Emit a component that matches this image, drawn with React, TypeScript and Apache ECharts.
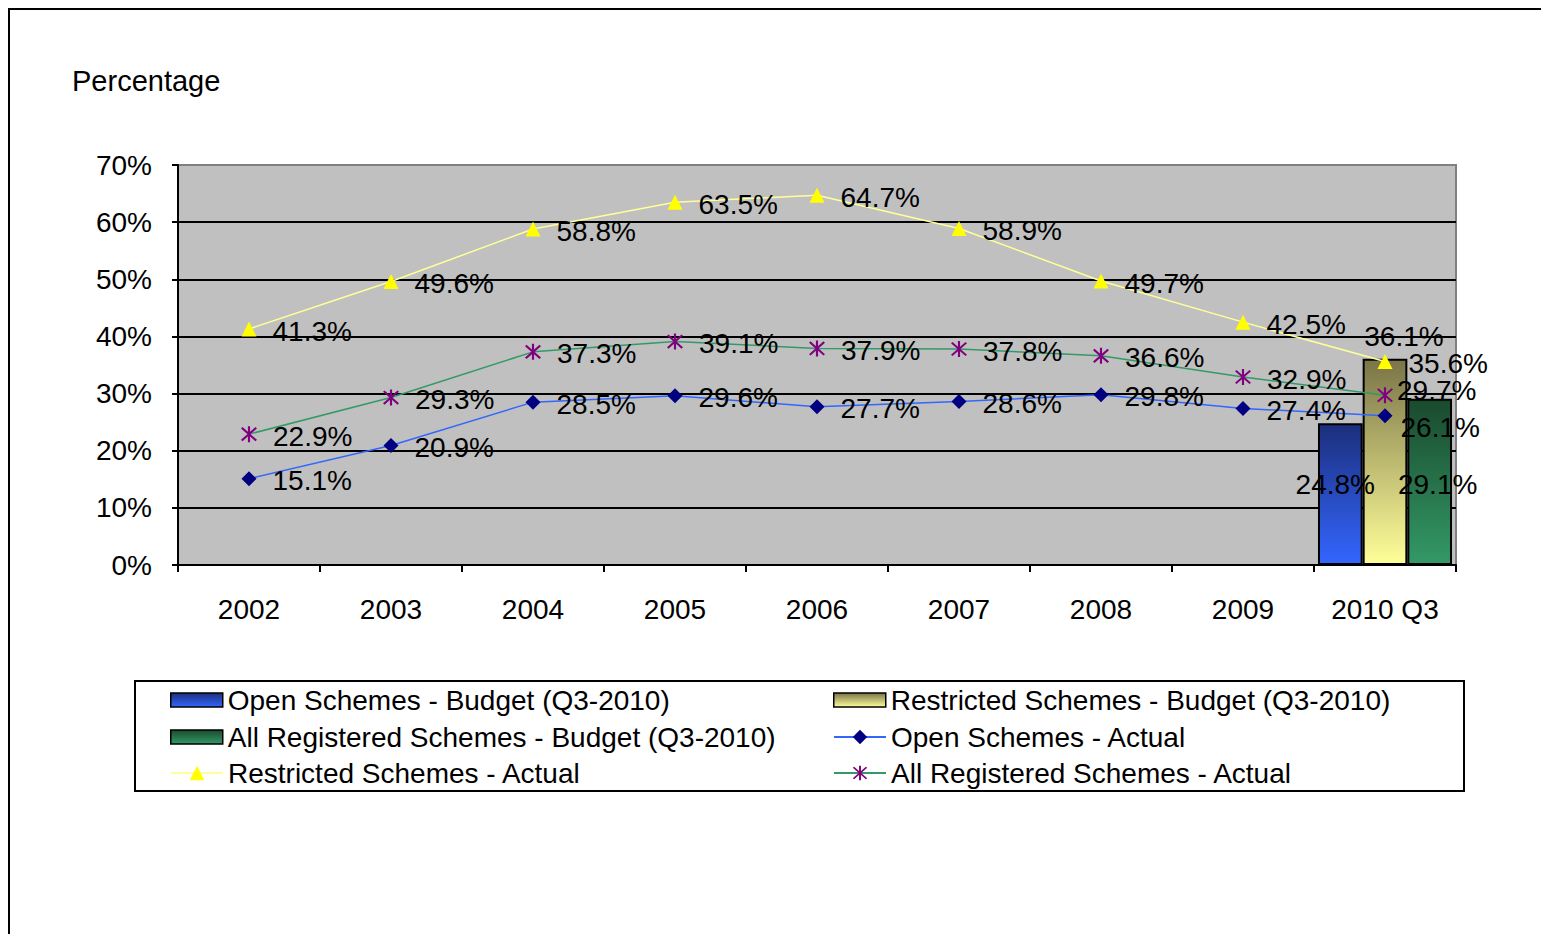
import React, { useEffect, useRef } from "react";
import * as echarts from "echarts";

const categories = ["2002", "2003", "2004", "2005", "2006", "2007", "2008", "2009", "2010 Q3"];
const openActual = [15.1, 20.9, 28.5, 29.6, 27.7, 28.6, 29.8, 27.4, 26.1];
const restrictedActual = [41.3, 49.6, 58.8, 63.5, 64.7, 58.9, 49.7, 42.5, 35.6];
const allActual = [22.9, 29.3, 37.3, 39.1, 37.9, 37.8, 36.6, 32.9, 29.7];
const openBudget = [null, null, null, null, null, null, null, null, 24.8];
const restrictedBudget = [null, null, null, null, null, null, null, null, 36.1];
const allBudget = [null, null, null, null, null, null, null, null, 29.1];

const FONT = "Liberation Sans, Arial, sans-serif";
const ASTERISK =
  "path://M-1.2,-10L1.2,-10L1.2,10L-1.2,10Z" +
  "M-7.15,-8.85L8.85,7.15L7.15,8.85L-8.85,-7.15Z" +
  "M-8.85,7.15L7.15,-8.85L8.85,-7.15L-7.15,8.85Z";

const grad = (top: string, bottom: string) =>
  new echarts.graphic.LinearGradient(0, 0, 0, 1, [
    { offset: 0, color: top },
    { offset: 1, color: bottom },
  ]);

const pct = (p: any) => (p.value == null ? "" : `${Number(p.value).toFixed(1)}%`);

export default function App() {
  const ref = useRef<HTMLDivElement>(null);
  useEffect(() => {
    if (!ref.current) return;
    const chart = echarts.init(ref.current, undefined, { renderer: "svg" });
    const labelBase = {
      show: true,
      position: "right" as const,
      distance: 16,
      offset: [0, 2],
      color: "#000",
      fontSize: 28,
      fontFamily: FONT,
      formatter: pct,
    };
    const lineData = (vals: number[], lastOffset?: number[]) =>
      vals.map((v, i) =>
        i === vals.length - 1 && lastOffset ? { value: v, label: { offset: lastOffset } } : v
      );
    const legendItem = (name: string, left: number, centerY: number, isBar: boolean) => ({
      data: [name],
      left,
      top: centerY - 16,
      padding: 0,
      itemWidth: 52,
      itemHeight: isBar ? 14 : 18,
      selectedMode: false,
      textStyle: { fontSize: 28, fontFamily: FONT, color: "#000", lineHeight: 32 },
      ...(isBar
        ? { icon: "rect", itemStyle: { borderColor: "#000", borderWidth: 1.5 } }
        : {}),
    });
    const barLabel = (offset: number[], position: any) => ({
      show: true,
      position,
      offset,
      color: "#000",
      fontSize: 28,
      fontFamily: FONT,
      formatter: pct,
    });
    chart.setOption({
      animation: false,
      backgroundColor: "#fff",
      title: {
        text: "Percentage",
        left: 72,
        top: 66,
        padding: 0,
        textStyle: { fontSize: 29, fontWeight: "normal", fontFamily: FONT, color: "#000" },
      },
      graphic: [
        {
          type: "rect",
          shape: { x: 9, y: 9, width: 1700, height: 1100 },
          style: { fill: "none", stroke: "#000", lineWidth: 2 },
          silent: true,
        },
        {
          type: "rect",
          shape: { x: 135, y: 681, width: 1329, height: 110 },
          style: { fill: "none", stroke: "#000", lineWidth: 2 },
          silent: true,
        },
      ],
      legend: [
        legendItem("Open Schemes - Budget (Q3-2010)", 170, 700, true),
        legendItem("Restricted Schemes - Budget (Q3-2010)", 833, 700, true),
        legendItem("All Registered Schemes - Budget (Q3-2010)", 170, 737, true),
        legendItem("Open Schemes - Actual", 833, 737, false),
        legendItem("Restricted Schemes - Actual", 170, 773, false),
        legendItem("All Registered Schemes - Actual", 833, 773, false),
      ],
      grid: {
        left: 178,
        top: 165,
        right: 85,
        bottom: 369,
        show: true,
        backgroundColor: "#c0c0c0",
        borderColor: "#808080",
        borderWidth: 2,
      },
      xAxis: {
        type: "category",
        data: categories,
        boundaryGap: true,
        axisLine: { lineStyle: { color: "#000", width: 2 } },
        axisTick: { show: true, length: 7, lineStyle: { color: "#000", width: 2 } },
        axisLabel: { color: "#000", fontSize: 28, fontFamily: FONT, margin: 30 },
      },
      yAxis: {
        type: "value",
        min: 0,
        max: 70,
        interval: 10,
        axisLine: { show: true, lineStyle: { color: "#000", width: 2 } },
        axisTick: { show: true, length: 6, lineStyle: { color: "#000", width: 2 } },
        axisLabel: {
          color: "#000",
          fontSize: 28,
          fontFamily: FONT,
          margin: 26,
          formatter: "{value}%",
        },
        splitLine: {
          show: true,
          lineStyle: {
            color: ["#000", "#000", "#000", "#000", "#000", "#000", "#000", "#808080"],
            width: 2,
          },
        },
      },
      series: [
        {
          name: "Open Schemes - Budget (Q3-2010)",
          type: "bar",
          data: openBudget,
          barGap: "0%",
          barCategoryGap: "5.6%",
          itemStyle: { color: grad("#1c2f7c", "#3366ff"), borderColor: "#000", borderWidth: 2 },
          label: barLabel([-5, -62], "insideBottom"),
        },
        {
          name: "Restricted Schemes - Budget (Q3-2010)",
          type: "bar",
          data: restrictedBudget,
          barGap: "0%",
          barCategoryGap: "5.6%",
          itemStyle: { color: grad("#7a7448", "#ffff99"), borderColor: "#000", borderWidth: 2 },
          label: barLabel([19, -3], "top"),
        },
        {
          name: "All Registered Schemes - Budget (Q3-2010)",
          type: "bar",
          data: allBudget,
          barGap: "0%",
          barCategoryGap: "5.6%",
          itemStyle: { color: grad("#1a4a2e", "#339966"), borderColor: "#000", borderWidth: 2 },
          label: barLabel([8, -62], "insideBottom"),
        },
        {
          name: "Open Schemes - Actual",
          type: "line",
          data: lineData(openActual, [-8, 12]),
          symbol: "diamond",
          symbolSize: 15,
          lineStyle: { color: "#3366ff", width: 1.5 },
          itemStyle: { color: "#000080" },
          label: labelBase,
          z: 5,
        },
        {
          name: "Restricted Schemes - Actual",
          type: "line",
          data: lineData(restrictedActual),
          symbol: "triangle",
          symbolSize: 15,
          lineStyle: { color: "#ffff99", width: 1.5 },
          itemStyle: { color: "#ffff00" },
          label: labelBase,
          z: 5,
        },
        {
          name: "All Registered Schemes - Actual",
          type: "line",
          data: lineData(allActual, [-12, -5]),
          symbol: ASTERISK,
          symbolSize: 16,
          lineStyle: { color: "#339966", width: 1.5 },
          itemStyle: { color: "#800080" },
          label: labelBase,
          z: 5,
        },
      ],
    });
    return () => chart.dispose();
  }, []);
  return (
    <div
      ref={ref}
      style={{ position: "absolute", left: 0, top: 0, width: 1541, height: 934 }}
    />
  );
}
